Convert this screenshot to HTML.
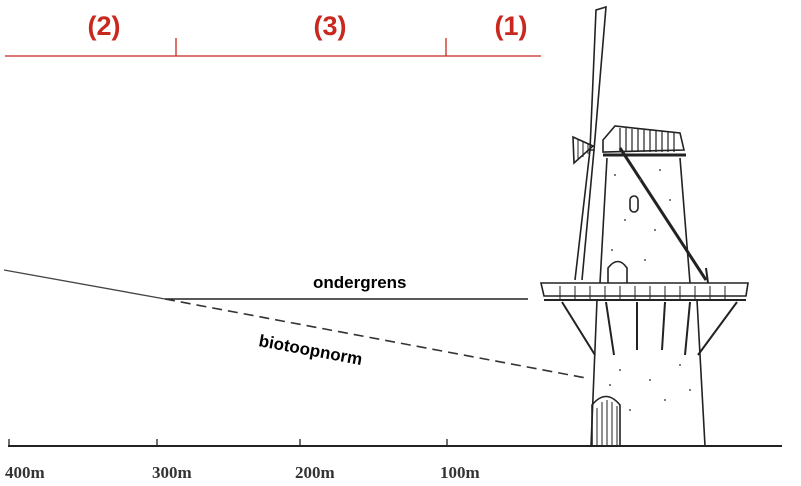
<!DOCTYPE html>
<html><head><meta charset="utf-8"><style>
html,body{margin:0;padding:0;background:#fff;width:801px;height:486px;overflow:hidden}
</style></head><body>
<svg width="801" height="486" viewBox="0 0 801 486" xmlns="http://www.w3.org/2000/svg">
<!-- red top scale -->
<g stroke="#c8281e" stroke-width="1.3" fill="none">
<line x1="5" y1="56" x2="541" y2="56"/>
<line x1="176" y1="38" x2="176" y2="56"/>
<line x1="446" y1="38" x2="446" y2="56"/>
</g>
<g fill="#c8281e" font-family="Liberation Sans, sans-serif" font-weight="bold" font-size="27" text-anchor="middle">
<text x="104" y="35">(2)</text>
<text x="330" y="35">(3)</text>
<text x="511" y="35">(1)</text>
</g>
<!-- lines -->
<line x1="4" y1="270" x2="165" y2="299" stroke="#444" stroke-width="1.3"/>
<line x1="165" y1="299" x2="528" y2="299" stroke="#222" stroke-width="1.5"/>
<line x1="165" y1="299" x2="586" y2="378" stroke="#333" stroke-width="1.6" stroke-dasharray="10,6"/>
<text x="313" y="288" font-family="Liberation Sans, sans-serif" font-weight="bold" font-size="17">ondergrens</text>
<text x="258" y="346" font-family="Liberation Sans, sans-serif" font-weight="bold" font-size="17" transform="rotate(10.5 258 346)">biotoopnorm</text>
<!-- ground axis -->
<line x1="8" y1="446" x2="782" y2="446" stroke="#222" stroke-width="2"/>
<g stroke="#222" stroke-width="1.3">
<line x1="9" y1="439" x2="9" y2="446"/><line x1="157" y1="439" x2="157" y2="446"/>
<line x1="300" y1="439" x2="300" y2="446"/><line x1="447" y1="439" x2="447" y2="446"/>
</g>
<g font-family="Liberation Serif, serif" font-weight="bold" font-size="17" fill="#333">
<text x="5" y="478">400m</text><text x="152" y="478">300m</text>
<text x="295" y="478">200m</text><text x="440" y="478">100m</text>
</g>
<!-- windmill -->
<g stroke="#222" stroke-width="1.6" fill="none">
<!-- upper body -->
<path d="M607 158 L600 283 M680 158 L690 283"/>
<line x1="603" y1="155" x2="686" y2="155" stroke-width="3"/>
<!-- cap hatch -->
<path d="M603 140 L615 126 L680 133 L684 150 L603 152 Z" fill="#fff"/>
<g stroke-width="1.2"><path d="M620 128V152M626 128V152M632 129V152M638 129V152M644 130V152M650 130V152M656 131V152M662 131V152M668 132V152M674 132V152"/></g>
<!-- sails -->
<path d="M596 10 L606 7 L594 150 L590 150 Z" fill="#fff"/>
<path d="M590 150 L575 280 M594 150 L582 280"/>
<path d="M573 137 L593 146 L574 163 Z"/>
<path d="M578 140V160M583 142V157M588 144V154" stroke-width="1"/>
<!-- brace -->
<line x1="620" y1="148" x2="706" y2="280" stroke-width="3"/>
<line x1="706" y1="268" x2="708" y2="283" stroke-width="2"/>
<!-- window -->
<rect x="630" y="196" width="8" height="16" rx="4"/>
<path d="M608 283 V268 Q618 255 627 268 V283"/>
<!-- gallery -->
<path d="M541 283 H748 L746 296 H544 Z" fill="#fff"/>
<line x1="544" y1="300" x2="746" y2="300" stroke-width="2"/>
<path d="M560 286V300M575 286V300M590 286V300M605 286V300M620 286V300M635 286V300M650 286V300M665 286V300M680 286V300M695 286V300M710 286V300M725 286V300" stroke-width="1"/>
<!-- lower tower -->
<path d="M597 300 L591 446 M697 300 L705 446"/>
<path d="M562 302 L595 355 M737 302 L698 355 M606 302 L614 355 M637 302 L637 350 M665 302 L662 350 M690 302 L685 355" stroke-width="2"/>
<!-- door -->
<path d="M592 446 V405 Q606 388 620 405 V446"/>
<path d="M597 408V446M602 402V446M607 400V446M612 402V446M617 406V446" stroke-width="1"/>
</g>
<g fill="#555">
<circle cx="615" cy="175" r="1"/><circle cx="640" cy="180" r="1"/><circle cx="660" cy="170" r="1"/><circle cx="625" cy="220" r="1"/><circle cx="655" cy="230" r="1"/><circle cx="670" cy="200" r="1"/><circle cx="612" cy="250" r="1"/><circle cx="645" cy="260" r="1"/><circle cx="620" cy="370" r="1"/><circle cx="650" cy="380" r="1"/><circle cx="680" cy="365" r="1"/><circle cx="630" cy="410" r="1"/><circle cx="665" cy="400" r="1"/><circle cx="610" cy="385" r="1"/><circle cx="690" cy="390" r="1"/>
</g>
</svg>
</body></html>
